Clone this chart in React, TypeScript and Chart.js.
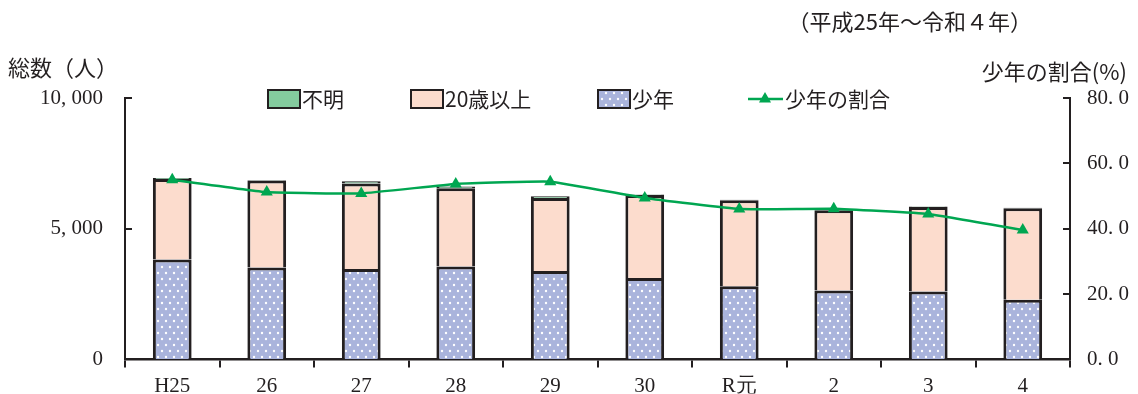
import React, { useEffect, useRef } from 'react';
import { Chart, registerables } from 'chart.js';

Chart.register(...registerables);

// ---- data ----
const categories = ['H25', '26', '27', '28', '29', '30', 'R元', '2', '3', '4'];
const youth = [3817, 3512, 3459, 3550, 3383, 3116, 2800, 2636, 2598, 2278];
const adults = [3084, 3328, 3272, 3000, 2787, 3169, 3288, 3071, 3230, 3505];
const unknown = [40, 25, 80, 60, 70, 20, 15, 15, 20, 15];
const youthRatio = [55.0, 51.2, 50.8, 53.7, 54.4, 49.4, 46.0, 46.1, 44.5, 39.6];

const leftTickLabels = ['0', '5, 000', '10, 000'];
const rightTickLabels = ['0. 0', '20. 0', '40. 0', '60. 0', '80. 0'];

const seriesLabels = ['不明', '20歳以上', '少年', '少年の割合'];
const leftAxisTitle = '総数（人）';
const rightAxisTitle = '少年の割合(%)';
const periodText = '（平成25年～令和４年）';

// ---- styles ----
const DARK = '#231f20';
const GREEN_BOX = '#84cb9e';
const PINK = '#fcdccd';
const BLUE = '#aab4dc';
const LINE_GREEN = '#00a651';
const NUM_FONT = "'Liberation Serif', 'DejaVu Serif', serif";
const JP_FONT = "'Noto Sans CJK JP', 'Liberation Serif', sans-serif";

function makeDotPattern(): CanvasPattern | string {
  const c = document.createElement('canvas');
  c.width = 8;
  c.height = 12;
  const g = c.getContext('2d');
  if (!g) return BLUE;
  g.fillStyle = BLUE;
  g.fillRect(0, 0, 8, 12);
  g.fillStyle = '#ffffff';
  [[2, 3], [6, 9]].forEach(([x, y]) => {
    g.beginPath();
    g.arc(x, y, 1.2, 0, Math.PI * 2);
    g.fill();
  });
  return g.createPattern(c, 'repeat') || BLUE;
}

const decorPlugin = {
  id: 'decor',
  afterDraw(chart: any) {
    const ctx: CanvasRenderingContext2D = chart.ctx;
    const { left, right } = chart.chartArea;
    ctx.save();
    // inward tick marks on both value axes
    ctx.strokeStyle = DARK;
    ctx.lineWidth = 2;
    const ys = chart.scales.y;
    ys.ticks.forEach((t: any) => {
      const py = Math.round(ys.getPixelForValue(t.value));
      ctx.beginPath();
      ctx.moveTo(left, py);
      ctx.lineTo(left + 7, py);
      ctx.stroke();
    });
    const y1 = chart.scales.y1;
    y1.ticks.forEach((t: any) => {
      const py = Math.round(y1.getPixelForValue(t.value));
      ctx.beginPath();
      ctx.moveTo(right - 7, py);
      ctx.lineTo(right, py);
      ctx.stroke();
    });

    // titles
    ctx.fillStyle = DARK;
    ctx.textBaseline = 'middle';
    ctx.font = `22px ${JP_FONT}`;
    ctx.textAlign = 'left';
    ctx.fillText(leftAxisTitle, 8, 68);
    ctx.textAlign = 'right';
    ctx.fillText(rightAxisTitle, 1127, 72);
    ctx.fillText(periodText, 1032, 22);

    // legend
    const ly = 99;
    const ds = chart.data.datasets;
    const boxes = [
      { x: 268, fill: ds[3].backgroundColor, label: seriesLabels[0] },
      { x: 411, fill: ds[2].backgroundColor, label: seriesLabels[1] },
      { x: 598, fill: ds[1].backgroundColor, label: seriesLabels[2] },
    ];
    ctx.font = `21px ${JP_FONT}`;
    ctx.textAlign = 'left';
    boxes.forEach((b) => {
      ctx.fillStyle = b.fill;
      ctx.fillRect(b.x, ly - 9, 32, 18);
      ctx.strokeStyle = DARK;
      ctx.lineWidth = 2;
      ctx.strokeRect(b.x, ly - 9, 32, 18);
      ctx.fillStyle = DARK;
      ctx.fillText(b.label, b.x + 34, ly);
    });
    // line legend
    ctx.strokeStyle = LINE_GREEN;
    ctx.lineWidth = 2.5;
    ctx.beginPath();
    ctx.moveTo(748, ly);
    ctx.lineTo(783, ly);
    ctx.stroke();
    ctx.fillStyle = LINE_GREEN;
    const r = 7;
    ctx.beginPath();
    ctx.moveTo(765, ly - r);
    ctx.lineTo(765 + r * 0.866, ly + r / 2);
    ctx.lineTo(765 - r * 0.866, ly + r / 2);
    ctx.closePath();
    ctx.fill();
    ctx.fillStyle = DARK;
    ctx.fillText(seriesLabels[3], 785, ly);
    ctx.restore();
  },
};

export default function App() {
  const ref = useRef<HTMLCanvasElement>(null);

  useEffect(() => {
    if (!ref.current) return;
    const dots = makeDotPattern();
    const chart = new Chart(ref.current, {
      type: 'bar',
      data: {
        labels: categories,
        datasets: [
          {
            type: 'line',
            label: seriesLabels[3],
            data: youthRatio,
            yAxisID: 'y1',
            borderColor: LINE_GREEN,
            backgroundColor: LINE_GREEN,
            borderWidth: 2.5,
            pointStyle: 'triangle',
            pointRadius: 7,
            pointBackgroundColor: LINE_GREEN,
            pointBorderWidth: 0,
            tension: 0.1,
            order: 0,
          } as any,
          {
            label: seriesLabels[2],
            data: youth,
            backgroundColor: dots as any,
            borderColor: DARK,
            borderWidth: 3,
            yAxisID: 'y',
            order: 1,
          },
          {
            label: seriesLabels[1],
            data: adults,
            backgroundColor: PINK,
            borderColor: DARK,
            borderWidth: 3,
            yAxisID: 'y',
            order: 1,
          },
          {
            label: seriesLabels[0],
            data: unknown,
            backgroundColor: GREEN_BOX,
            borderColor: DARK,
            borderWidth: 3,
            yAxisID: 'y',
            order: 1,
          },
        ],
      },
      options: {
        responsive: false,
        animation: false,
        events: [],
        layout: { padding: { top: 98, left: 0, right: 0, bottom: 0 } },
        datasets: {
          bar: { barPercentage: 0.41, categoryPercentage: 1.0 },
        },
        plugins: {
          legend: { display: false },
          tooltip: { enabled: false },
          title: { display: false },
        },
        scales: {
          x: {
            stacked: true,
            offset: true,
            grid: {
              display: true,
              drawOnChartArea: false,
              drawTicks: true,
              tickLength: 8,
              color: DARK,
              lineWidth: 2,
              offset: true,
            },
            border: { display: true, color: DARK, width: 2.5 },
            ticks: {
              color: DARK,
              font: { size: 21, family: NUM_FONT },
              padding: 6,
              maxRotation: 0,
              autoSkip: false,
            },
            afterFit: (s: any) => {
              s.height = 34;
            },
          },
          y: {
            stacked: true,
            position: 'left',
            min: 0,
            max: 10000,
            grid: { display: true, drawOnChartArea: false, drawTicks: false },
            border: { display: true, color: DARK, width: 2 },
            ticks: {
              stepSize: 5000,
              color: DARK,
              padding: 22,
              font: { size: 21, family: NUM_FONT },
              callback: (_v: any, i: number) => leftTickLabels[i],
            },
            afterFit: (s: any) => {
              s.width = 125;
            },
          },
          y1: {
            stacked: false,
            position: 'right',
            min: 0,
            max: 80,
            grid: { display: true, drawOnChartArea: false, drawTicks: false },
            border: { display: true, color: DARK, width: 2 },
            ticks: {
              stepSize: 20,
              color: DARK,
              padding: 17,
              font: { size: 21, family: NUM_FONT },
              callback: (_v: any, i: number) => rightTickLabels[i],
            },
            afterFit: (s: any) => {
              s.width = 68;
            },
          },
        },
      },
      plugins: [decorPlugin],
    });
    return () => chart.destroy();
  }, []);

  return (
    <div style={{ position: 'fixed', left: 0, top: 0, width: 1138, height: 394, background: '#fff' }}>
      <canvas ref={ref} width={1138} height={394} style={{ width: 1138, height: 394, display: 'block' }} />
    </div>
  );
}
